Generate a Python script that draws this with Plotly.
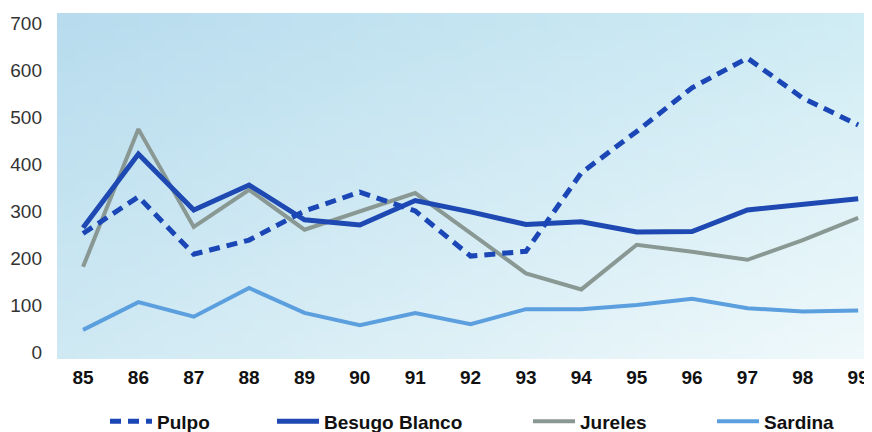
import zlib, struct, base64
import plotly.graph_objects as go

# ---- data ----
years = [85, 86, 87, 88, 89, 90, 91, 92, 93, 94, 95, 96, 97, 98, 99]
year_labels = ["85", "86", "87", "88", "89", "90", "91", "92", "93", "94", "95", "96", "97", "98", "99"]
pulpo = [252, 330, 208, 238, 300, 340, 300, 204, 214, 381, 469, 562, 625, 540, 483]
besugo = [264, 421, 302, 355, 281, 270, 322, 298, 271, 277, 255, 256, 302, 313, 326]
jureles = [181, 474, 266, 345, 260, 299, 338, 253, 167, 133, 228, 213, 196, 238, 285]
sardina = [47, 106, 75, 136, 83, 57, 83, 59, 91, 91, 100, 113, 93, 86, 88]
y_ticks = [0, 100, 200, 300, 400, 500, 600, 700]

# ---- gradient background image (plot area) ----
def gradient_png(w, h, tl, tr, bl, br):
    raw = b""
    for j in range(h):
        v = j / (h - 1)
        row = bytearray([0])
        for i in range(w):
            u = i / (w - 1)
            for c in range(3):
                top = tl[c] * (1 - u) + tr[c] * u
                bot = bl[c] * (1 - u) + br[c] * u
                row.append(int(round(top * (1 - v) + bot * v)))
        raw += bytes(row)

    def chunk(t, d):
        c = struct.pack(">I", len(d)) + t + d
        return c + struct.pack(">I", zlib.crc32(t + d) & 0xffffffff)

    png = b"\x89PNG\r\n\x1a\n"
    png += chunk(b"IHDR", struct.pack(">IIBBBBB", w, h, 8, 2, 0, 0, 0))
    png += chunk(b"IDAT", zlib.compress(raw, 9))
    png += chunk(b"IEND", b"")
    return "data:image/png;base64," + base64.b64encode(png).decode()

bg = gradient_png(64, 32, (184, 220, 238), (208, 236, 244), (207, 233, 243), (240, 249, 251))

font_fam = "Liberation Sans, Arial, sans-serif"
# page body has an 8px margin: the figure is offset by (8, 8)
OFF = 8
PLOT_L, PLOT_W = 57, 815  # page pixels

fig = go.Figure()
fig.add_trace(go.Scatter(x=years, y=sardina, name="Sardina", mode="lines",
                         line=dict(color="#5c9fde", width=4), legend="legend4"))
fig.add_trace(go.Scatter(x=years, y=jureles, name="Jureles", mode="lines",
                         line=dict(color="#8a9893", width=4), legend="legend3"))
fig.add_trace(go.Scatter(x=years, y=besugo, name="Besugo Blanco", mode="lines",
                         line=dict(color="#1e48b2", width=5), legend="legend2"))
fig.add_trace(go.Scatter(x=years, y=pulpo, name="Pulpo", mode="lines",
                         line=dict(color="#1b46b6", width=5, dash="11px,7px"), legend="legend"))

leg_common = dict(orientation="h", yanchor="middle", y=-0.18, xanchor="left",
                  itemwidth=42,
                  font=dict(family=font_fam, size=19, color="#111111", weight="bold"),
                  bgcolor="rgba(0,0,0,0)", borderwidth=0)

def lx(px):
    return (px - PLOT_L) / PLOT_W

fig.update_layout(
    width=872 - OFF, height=432 - OFF,
    margin=dict(l=PLOT_L - OFF, r=0, t=13 - OFF, b=73, autoexpand=False),
    paper_bgcolor="white",
    plot_bgcolor="white",
    showlegend=True,
    legend=dict(x=lx(105), **leg_common),
    legend2=dict(x=lx(272), **leg_common),
    legend3=dict(x=lx(528), **leg_common),
    legend4=dict(x=lx(712), **leg_common),
    images=[dict(source=bg, xref="paper", yref="paper", x=0, y=1, sizex=1, sizey=1,
                 sizing="stretch", xanchor="left", yanchor="top", layer="below")],
    xaxis=dict(range=[84.53, 99.25], tickvals=years, ticktext=year_labels,
               automargin=False,
               showgrid=False, zeroline=False, showline=False, ticks="",
               ticklabelstandoff=5,
               tickfont=dict(family=font_fam, size=19, color="#111111", weight="bold")),
    yaxis=dict(range=[-15, 721], tickvals=y_ticks, ticktext=[str(v) for v in y_ticks],
               automargin=False,
               showgrid=False, zeroline=False, showline=False, ticks="",
               ticklabelstandoff=14,
               tickfont=dict(family=font_fam, size=19, color="#333333")),
)

fig.write_html("out.html")
